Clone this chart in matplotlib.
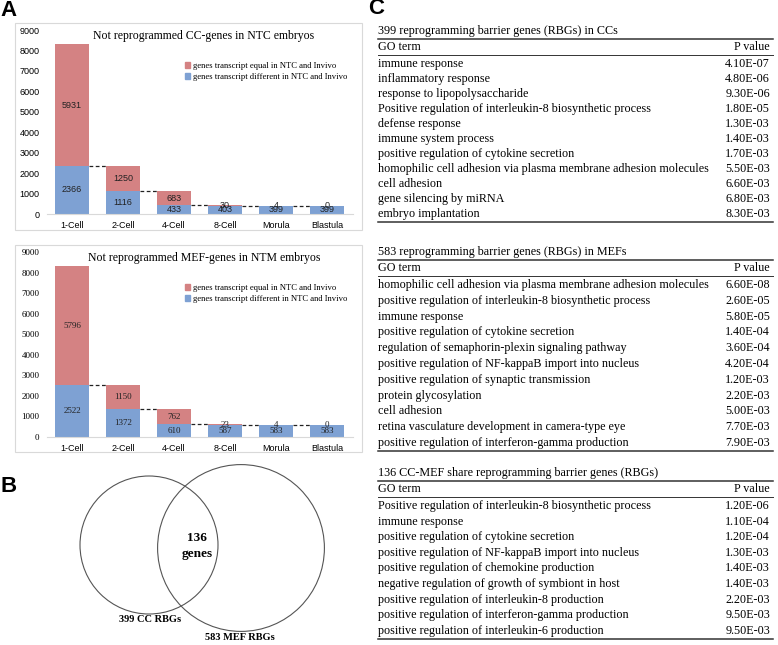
import matplotlib.pyplot as plt
import numpy as np
from matplotlib.patches import Rectangle, Circle, Patch
from matplotlib.lines import Line2D

W, H = 778, 645

stages = ['1-Cell', '2-Cell', '4-Cell', '8-Cell', 'Morula', 'Blastula']
cc_diff = [2366, 1116, 433, 403, 399, 399]
cc_equal = [5931, 1250, 683, 30, 4, 0]
mef_diff = [2522, 1372, 610, 587, 583, 583]
mef_equal = [5796, 1150, 762, 23, 4, 0]
legend_labels = ['genes transcript equal in NTC and Invivo',
                 'genes transcript different in NTC and Invivo']

cc_rbg, mef_rbg, shared_rbg = 399, 583, 136

cc_terms = ['immune response', 'inflammatory response', 'response to lipopolysaccharide',
            'Positive regulation of interleukin-8 biosynthetic process', 'defense response',
            'immune system process', 'positive regulation of cytokine secretion',
            'homophilic cell adhesion via plasma membrane adhesion molecules', 'cell adhesion',
            'gene silencing by miRNA', 'embryo implantation']
cc_p = ['4.10E-07', '4.80E-06', '9.30E-06', '1.80E-05', '1.30E-03', '1.40E-03',
        '1.70E-03', '5.50E-03', '6.60E-03', '6.80E-03', '8.30E-03']
mef_terms = ['homophilic cell adhesion via plasma membrane adhesion molecules',
             'positive regulation of interleukin-8 biosynthetic process', 'immune response',
             'positive regulation of cytokine secretion',
             'regulation of semaphorin-plexin signaling pathway',
             'positive regulation of NF-kappaB import into nucleus',
             'positive regulation of synaptic transmission', 'protein glycosylation',
             'cell adhesion', 'retina vasculature development in camera-type eye',
             'positive regulation of interferon-gamma production']
mef_p = ['6.60E-08', '2.60E-05', '5.80E-05', '1.40E-04', '3.60E-04', '4.20E-04',
         '1.20E-03', '2.20E-03', '5.00E-03', '7.70E-03', '7.90E-03']
shared_terms = ['Positive regulation of interleukin-8 biosynthetic process', 'immune response',
                'positive regulation of cytokine secretion',
                'positive regulation of NF-kappaB import into nucleus',
                'positive regulation of chemokine production',
                'negative regulation of growth of symbiont in host',
                'positive regulation of interleukin-8 production',
                'positive regulation of interferon-gamma production',
                'positive regulation of interleukin-6 production']
shared_p = ['1.20E-06', '1.10E-04', '1.20E-04', '1.30E-03', '1.40E-03', '1.40E-03',
            '2.20E-03', '9.50E-03', '9.50E-03']

RED = '#D48283'
BLUE = '#7EA1D3'
SERIF = 'Liberation Serif'
SANS = 'Liberation Sans'

fig = plt.figure(figsize=(W / 100, H / 100), dpi=100)


def fx(x):
    return x / W


def fy(y):
    return 1 - y / H


def bar_panel(top, zero, frame_top, frame_bot, title, diff, equal, serif):
    fam = SERIF if serif else SANS
    ax = fig.add_axes([fx(46.5), fy(zero), (352.5 - 46.5) / W, (zero - top) / H])
    fig.patches.append(Rectangle((fx(15), fy(frame_bot)), (362 - 15) / W,
                                 (frame_bot - frame_top) / H, transform=fig.transFigure,
                                 fill=False, ec='#D9D9D9', lw=0.8, zorder=0))
    x = np.arange(len(stages))
    w = 0.66
    b1 = ax.bar(x, diff, w, color=BLUE)
    b2 = ax.bar(x, equal, w, bottom=diff, color=RED)
    ax.bar_label(b1, label_type='center', fontsize=6.5, family=fam, color='#222222')
    ax.bar_label(b2, label_type='center', fontsize=6.5, family=fam, color='#222222')
    for i in range(len(stages) - 1):
        ax.plot([i + w / 2, i + 1 - w / 2], [diff[i], diff[i]], color='#222222',
                lw=0.9, ls=(0, (3, 2)))
    ax.set_xlim(-0.5, 5.5)
    ax.set_ylim(0, 9000)
    ax.set_yticks(np.arange(0, 9001, 1000))
    ax.set_xticks(x)
    ax.set_xticklabels(stages, family=SANS, fontsize=6.5)
    for lab in ax.get_yticklabels():
        lab.set_family(fam)
        lab.set_fontsize(6.5)
    ax.tick_params(length=0)
    ax.tick_params(axis='y', pad=5)
    ax.tick_params(axis='x', pad=5)
    for s in ['top', 'right', 'left']:
        ax.spines[s].set_visible(False)
    ax.spines['bottom'].set_color('#D9D9D9')
    ax.patch.set_alpha(0)
    fig.text(fx(204), fy(top + 6), title, family=SERIF, fontsize=8.5,
             ha='center', va='center')
    handles = [Patch(color=RED), Patch(color=BLUE)]
    ax.legend(handles, legend_labels, loc='upper left',
              bbox_to_anchor=((185 - 46.5) / 306, 1 - 32 / (zero - top)),
              frameon=False, prop={'family': SERIF, 'size': 6.2},
              handlelength=0.6, handleheight=0.6, handletextpad=0.3,
              labelspacing=0.35, borderpad=0, borderaxespad=0)
    return ax


bar_panel(30, 214, 23, 230, 'Not reprogrammed CC-genes in NTC embryos',
          cc_diff, cc_equal, False)
bar_panel(252, 437, 245, 452, 'Not reprogrammed MEF-genes in NTM embryos',
          mef_diff, mef_equal, True)

# overlay in pixel units for the Venn diagram and tables
ov = fig.add_axes([0, 0, 1, 1])
ov.set_xlim(0, W)
ov.set_ylim(H, 0)
ov.axis('off')
ov.patch.set_alpha(0)

for lbl, (px, py) in zip('ABC', [(9, 10), (9, 487), (376, 9)]):
    ov.text(px, py, lbl, family=SANS, weight='bold', fontsize=16,
            ha='center', va='center')

# Venn
k = 69 / np.sqrt(cc_rbg)
ov.add_patch(Circle((149, 545), k * np.sqrt(cc_rbg), fill=False, ec='#555555', lw=0.8))
ov.add_patch(Circle((241, 548), k * np.sqrt(mef_rbg), fill=False, ec='#555555', lw=0.8))
ov.text(197, 538, str(shared_rbg), family=SERIF, weight='bold', fontsize=9.5,
        ha='center', va='center')
ov.text(197, 554, 'genes', family=SERIF, weight='bold', fontsize=9.5,
        ha='center', va='center')
ov.text(150, 620, f'{cc_rbg} CC RBGs', family=SERIF, weight='bold', fontsize=7.5,
        ha='center', va='center')
ov.text(240, 638, f'{mef_rbg} MEF RBGs', family=SERIF, weight='bold', fontsize=7.5,
        ha='center', va='center')


def go_table(title_y, title, terms, pvals, step):
    x0, x1 = 378, 773
    fs = 8.7
    ov.text(x0, title_y, title, family=SERIF, fontsize=fs, va='center')
    ov.add_line(Line2D([x0, x1], [title_y + 8, title_y + 8], color='#333333', lw=1.1))
    hy = title_y + 16
    ov.text(x0, hy, 'GO term', family=SERIF, fontsize=fs, va='center')
    ov.text(x1 - 3, hy, 'P value', family=SERIF, fontsize=fs, va='center', ha='right')
    ov.add_line(Line2D([x0, x1], [hy + 8, hy + 8], color='#333333', lw=0.7))
    y = hy + 17
    for t, p in zip(terms, pvals):
        ov.text(x0, y, t, family=SERIF, fontsize=fs, va='center')
        ov.text(x1 - 3, y, p, family=SERIF, fontsize=fs, va='center', ha='right')
        y += step
    yb = y - step + 8
    ov.add_line(Line2D([x0, x1], [yb, yb], color='#333333', lw=1.1))


go_table(31, f'{cc_rbg} reprogramming barrier genes (RBGs) in CCs', cc_terms, cc_p, 15.0)
go_table(252, f'{mef_rbg} reprogramming barrier genes (RBGs) in MEFs', mef_terms, mef_p, 15.8)
go_table(473, f'{shared_rbg} CC-MEF share reprogramming barrier genes (RBGs)',
         shared_terms, shared_p, 15.6)

fig.savefig('out.png', dpi=100)
